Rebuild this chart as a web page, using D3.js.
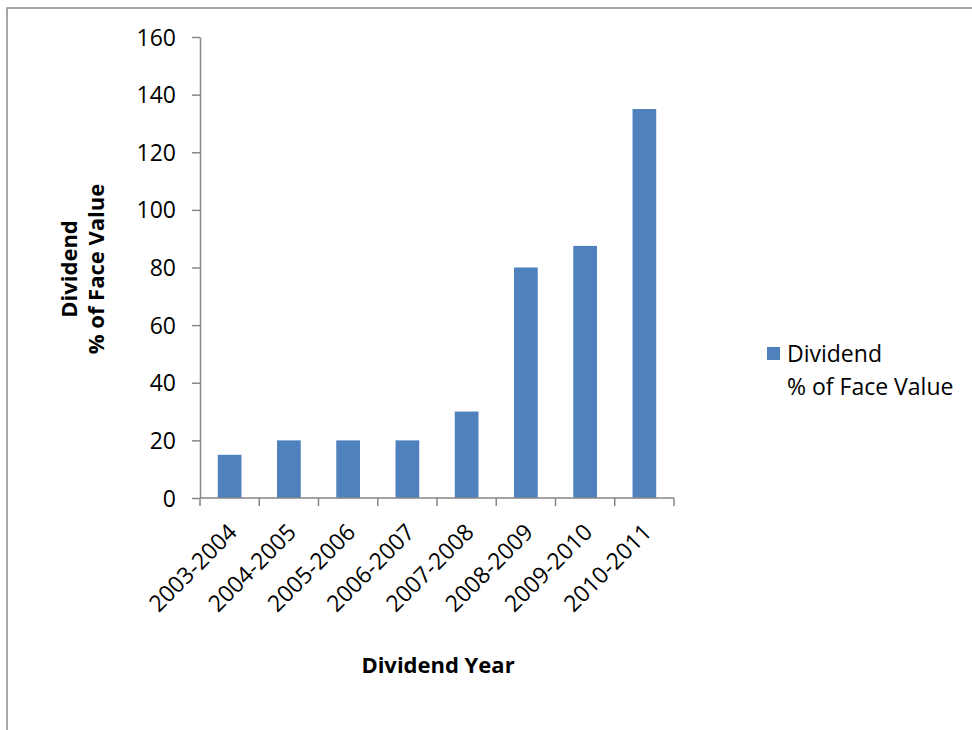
<!DOCTYPE html>
<html>
<head>
<meta charset="utf-8">
<script src="https://cdn.jsdelivr.net/npm/d3@7"></script>
<style>
  html, body { margin: 0; padding: 0; background: #fff; }
  svg { display: block; }
  text { font-family: "Open Sans", "Noto Sans", "Liberation Sans", sans-serif; fill: #000; }
</style>
</head>
<body>
<svg id="chart" width="972" height="730"></svg>
<script>
// Dividend as % of face value, by dividend year
const years = ["2003-2004", "2004-2005", "2005-2006", "2006-2007",
               "2007-2008", "2008-2009", "2009-2010", "2010-2011"];
const dividendPct = [15, 20, 20, 20, 30, 80, 87.5, 135];
const yTicks = [0, 20, 40, 60, 80, 100, 120, 140, 160];
const seriesName = ["Dividend", "% of Face Value"];

const svg = d3.select("#chart");
const axisColor = "#868686";
const barColor = "#4F81BD";

// outer chart frame (runs off the right and bottom edges)
svg.append("rect")
  .attr("x", 7).attr("y", 8)
  .attr("width", 1000).attr("height", 800)
  .attr("fill", "none")
  .attr("stroke", "#8c8c8c")
  .attr("stroke-width", 1.5);

const plot = { left: 200, right: 674, top: 37, bottom: 498 };

const x = d3.scaleBand()
  .domain(years)
  .range([plot.left, plot.right])
  .paddingInner(0.6)
  .paddingOuter(0.3);

const y = d3.scaleLinear()
  .domain([0, 160])
  .range([plot.bottom, plot.top]);

// bars
svg.append("g")
  .selectAll("rect")
  .data(years.map((yr, i) => ({ yr, v: dividendPct[i] })))
  .join("rect")
  .attr("x", d => x(d.yr))
  .attr("y", d => y(d.v))
  .attr("width", x.bandwidth())
  .attr("height", d => y(0) - y(d.v))
  .attr("fill", barColor);

// y axis
const yAxis = svg.append("g")
  .attr("transform", `translate(${plot.left},0)`)
  .call(d3.axisLeft(y).tickValues(yTicks).tickSize(8).tickPadding(16).tickSizeOuter(0));
yAxis.select(".domain").attr("stroke", axisColor).attr("stroke-width", 1.5);
yAxis.selectAll(".tick line").attr("stroke", axisColor).attr("stroke-width", 1.5);
yAxis.selectAll(".tick text")
  .style("font-size", "23px")
  .attr("dy", "0.35em");

// x axis: ticks sit on category boundaries
const step = (plot.right - plot.left) / years.length;
const xAxisG = svg.append("g").attr("transform", `translate(0,${plot.bottom})`);
xAxisG.append("line")
  .attr("x1", plot.left).attr("x2", plot.right)
  .attr("y1", 0).attr("y2", 0)
  .attr("stroke", axisColor).attr("stroke-width", 1.5);
xAxisG.selectAll("line.tk")
  .data(d3.range(years.length + 1))
  .join("line")
  .attr("class", "tk")
  .attr("x1", i => plot.left + i * step).attr("x2", i => plot.left + i * step)
  .attr("y1", 0).attr("y2", 8)
  .attr("stroke", axisColor).attr("stroke-width", 1.5);

// rotated category labels
svg.append("g")
  .selectAll("text")
  .data(years)
  .join("text")
  .attr("transform", d => `translate(${x(d) + x.bandwidth() / 2 + 3},${plot.bottom + 30}) rotate(-45)`)
  .attr("text-anchor", "end")
  .attr("dy", "0.35em")
  .style("font-size", "23px")
  .text(d => d);

// axis titles
svg.append("text")
  .attr("x", 438).attr("y", 673)
  .attr("text-anchor", "middle")
  .style("font-size", "22px")
  .style("font-weight", "bold")
  .text("Dividend Year");

const yTitle = svg.append("text")
  .attr("transform", "translate(77,269) rotate(-90)")
  .attr("text-anchor", "middle")
  .style("font-size", "22px")
  .style("font-weight", "bold");
yTitle.append("tspan").attr("x", 0).attr("dy", 0).text(seriesName[0]);
yTitle.append("tspan").attr("x", 0).attr("dy", 27).text(seriesName[1]);

// legend
const legend = svg.append("g").attr("transform", "translate(767,347)");
legend.append("rect")
  .attr("width", 13).attr("height", 13)
  .attr("fill", barColor);
legend.append("text")
  .attr("x", 20).attr("y", 15)
  .style("font-size", "23px")
  .text(seriesName[0]);
legend.append("text")
  .attr("x", 20).attr("y", 48)
  .style("font-size", "23px")
  .text(seriesName[1]);
</script>
</body>
</html>
